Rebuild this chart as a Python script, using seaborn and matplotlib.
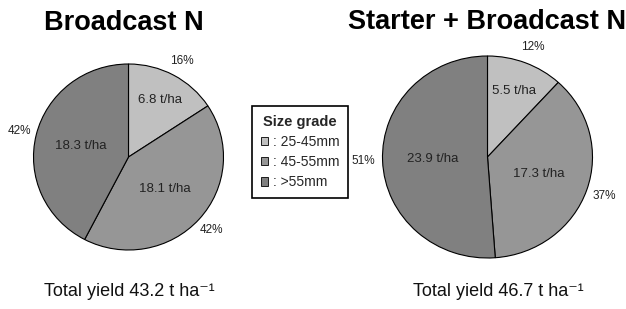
import matplotlib
matplotlib.use("Agg")
import matplotlib.pyplot as plt
import numpy as np
import seaborn as sns
from matplotlib.lines import Line2D
from matplotlib.patches import Patch

grades = ["25-45mm", "45-55mm", ">55mm"]
broadcast_yield = [6.8, 18.1, 18.3]
starter_yield = [5.5, 17.3, 23.9]
titles = ["Broadcast N", "Starter + Broadcast N"]
total_yield = [43.2, 46.7]

sns.set_theme(style="white")
plt.rcParams["font.family"] = ["Liberation Sans", "DejaVu Sans"]
palette = sns.color_palette(["#c0c0c0", "#969696", "#808080"])

W, H = 626, 309
fig = plt.figure(figsize=(W / 100, H / 100), dpi=100)
fig.patch.set_facecolor("white")


def pie_axes(cx, cy, rx, ry):
    # place a pie axes by its centre / radius in pixels
    return fig.add_axes([(cx - rx) / W, 1 - (cy + ry) / H, 2 * rx / W, 2 * ry / H])


def draw_pie(ax, values):
    wedges, _ = ax.pie(values, colors=palette, startangle=90, counterclock=False,
                       wedgeprops=dict(edgecolor="black", linewidth=0.8))
    ax.set_xlim(-1, 1)
    ax.set_ylim(-1, 1)
    ax.set_aspect("auto")
    total = sum(values)
    for w, v in zip(wedges, values):
        ang = np.deg2rad((w.theta1 + w.theta2) / 2)
        frac = v / total
        ax.text(1.18 * np.cos(ang), 1.17 * np.sin(ang), f"{frac:.0%}",
                ha="center", va="center", fontsize=8.5, color="#222222")
        d = 0.7 if frac < 0.2 else 0.52
        ax.text(d * np.cos(ang), d * np.sin(ang), f"{v} t/ha",
                ha="center", va="center", fontsize=9.5, color="#222222")


ax1 = pie_axes(128.5, 157, 95, 93)
draw_pie(ax1, broadcast_yield)
ax2 = pie_axes(487.5, 157, 105, 101)
draw_pie(ax2, starter_yield)

for cx, cy, t in [(124, 23, titles[0]), (487, 22, titles[1])]:
    fig.text(cx / W, 1 - cy / H, t, ha="center", va="center",
             fontsize=19.5, fontweight="bold", color="black")

for cx, t in [(129.5, total_yield[0]), (498.5, total_yield[1])]:
    fig.text(cx / W, 1 - 292 / H, f"Total yield {t} t ha\u207b\u00b9",
             ha="center", va="center", fontsize=13, color="#111111")

handles = [Patch(facecolor=c, edgecolor="black", linewidth=0.6) for c in palette]
leg = fig.legend(handles, [": " + g for g in grades], title="Size grade",
                 loc="center", bbox_to_anchor=(300 / W, 1 - 152 / H),
                 fontsize=10, title_fontproperties={"weight": "bold", "size": 10.5},
                 handlelength=0.55, handleheight=0.55, handletextpad=0.3,
                 labelspacing=0.45, borderpad=0.6, fancybox=False,
                 framealpha=1, edgecolor="black")
leg.get_frame().set_linewidth(1.2)

# underline the legend title
fig.canvas.draw()
bb = leg.get_title().get_window_extent()
fig.add_artist(Line2D([bb.x0 / W, bb.x1 / W], [(bb.y0 + 1) / H] * 2,
                      transform=fig.transFigure, color="black", linewidth=1.2))

fig.savefig("out.png", dpi=100)
